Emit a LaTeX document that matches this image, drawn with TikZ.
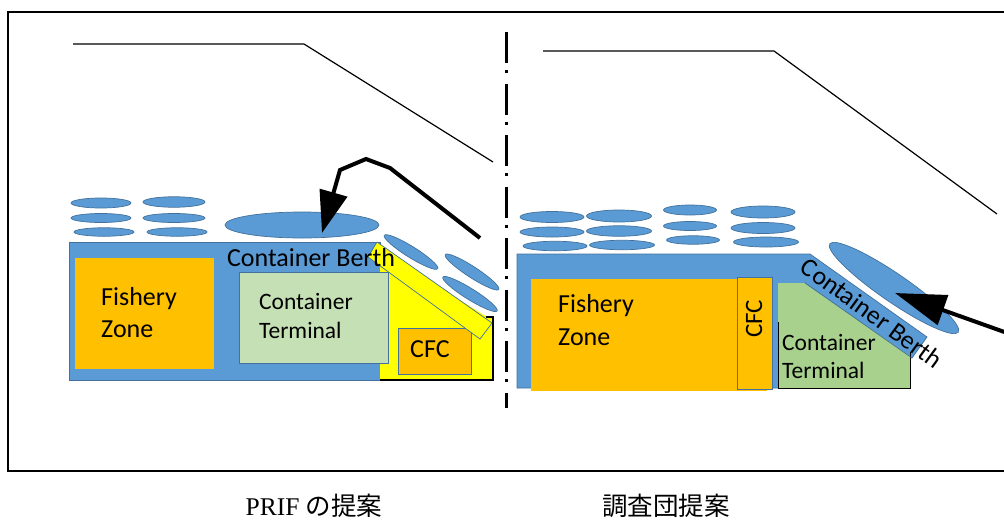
\documentclass[tikz,border=0pt]{standalone}
\usepackage{fontspec}
\setmainfont{Liberation Serif}
\setsansfont{Carlito}
\newfontfamily\cjk{Noto Sans CJK JP}
\usetikzlibrary{shapes.geometric,arrows.meta}
\definecolor{bl}{HTML}{5B9BD5}
\definecolor{bld}{HTML}{41719C}
\definecolor{org}{HTML}{FFC000}
\definecolor{lgr}{HTML}{C5E0B4}
\definecolor{mgr}{HTML}{A9D18E}
\definecolor{yel}{HTML}{FFFF00}
\begin{document}
\begin{tikzpicture}[x=1pt,y=-1pt,
  ell/.style={ellipse, fill=bl, draw=bld, line width=0.7pt, inner sep=0pt, outer sep=0pt},
  sml/.style={ell, minimum width=60pt, minimum height=9pt},
  lbl/.style={font=\sffamily\fontsize{26}{30}\selectfont, inner sep=0pt, anchor=base west},
  tlbl/.style={font=\sffamily\fontsize{23.5}{28}\selectfont, inner sep=0pt, anchor=base west},
  thinln/.style={line width=1.2pt, black},
  thickarr/.style={line width=4pt, black, -{Triangle[length=42pt,width=28pt]}},
  captxt/.style={font=\fontsize{25.5}{28}\selectfont, inner sep=0pt, anchor=base}]
\useasboundingbox (0,0) rectangle (1004,520);
% frame
\draw[line width=1.2pt] (1015,12) -- (8,12) -- (8,471) -- (1015,471);
% ---------- left panel ----------
\coordinate (l1) at (73,44); \coordinate (l2) at (304,44); \coordinate (l3) at (493,162);
\draw[thinln] (l1) -- (l2) -- (l3);
% land
\draw[fill=bl, draw=bld, line width=0.7pt] (69,242) rectangle (380,380);
\fill[org] (75,258) rectangle (214,369);
% yellow area
\fill[yel] (380,250) -- (487,317) -- (493,317) -- (493,380) -- (380,380) -- cycle;
\draw[line width=1.2pt] (380,380) -- (493,380) -- (493,317) -- (486,317);
% terminal
\draw[fill=lgr, draw=bld, line width=0.7pt] (239,272) rectangle (388,363);
% CFC
\draw[fill=org, draw=bld, line width=0.7pt] (398,328) rectangle (471,374);
% yellow strip
\draw[fill=yel, draw=bld, line width=0.7pt] (377,242) -- (492,323) -- (480,339) -- (368,257) -- cycle;
% ellipses
\node[ell, minimum width=154pt, minimum height=26pt] (bigL) at (302,225) {};
\node[sml, minimum height=10pt] (s11) at (101,203) {};
\node[sml] (s12) at (101,218) {};
\node[sml, minimum height=8.5pt] (s13) at (104,232) {};
\node[sml, minimum width=62pt, minimum height=10.5pt] (s21) at (174,202) {};
\node[sml, minimum width=62pt] (s22) at (174,218) {};
\node[sml, minimum height=8.5pt] (s23) at (177,232) {};
\node[ell, minimum width=63pt, minimum height=11pt, rotate=-32] (r1) at (411,252) {};
\node[ell, minimum width=64pt, minimum height=11pt, rotate=-33] (r2) at (472,272) {};
\node[ell, minimum width=64pt, minimum height=11pt, rotate=-32] (r3) at (470,294) {};
% texts
\node[lbl] (fz1) at (101,305) {Fishery};
\node[lbl] (fz2) at (101,337) {Zone};
\node[tlbl] (ct1) at (259,309) {Container};
\node[tlbl] (ct2) at (259,338) {Terminal};
\node[lbl] (cfcL) at (410,357) {CFC};
\node[lbl, anchor=base] (cbL) at (311,266) {Container Berth};
% arrow
\coordinate (a1) at (480,238); \coordinate (a2) at (390,168); \coordinate (a3) at (366,159); \coordinate (a4) at (340,170); \coordinate (a5) at (322,233);
\draw[thickarr] (a1) -- (a2) -- (a3) -- (a4) -- (a5);
% ---------- divider ----------
\coordinate (d1) at (506,32); \coordinate (d2) at (506,408);
\draw[line width=3pt, dash pattern=on 31pt off 7pt on 3pt off 10.5pt] (d1) -- (d2);
% ---------- right panel ----------
\coordinate (m1) at (543,51); \coordinate (m2) at (774,51); \coordinate (m3) at (997,214);
\draw[thinln] (m1) -- (m2) -- (m3);
\draw[fill=bl, draw=bld, line width=0.7pt] (517,254) -- (810,254) -- (927,337) -- (912,358) -- (805,283) -- (805,388) -- (517,388) -- cycle;
\fill[org] (531,279) rectangle (767,391);
\draw[fill=org, draw=bld, line width=0.7pt] (737,277) rectangle (772,389);
\fill[mgr] (778,283) -- (805,283) -- (910,356) -- (910,388) -- (778,388) -- cycle;
\draw[line width=1pt] (778,322) -- (778,388) -- (910,388) -- (910,352);
\draw[bld, line width=0.7pt] (805,283) -- (912,358);
% small ellipses right
\node[sml, minimum width=64pt, minimum height=11pt] (q11) at (552,217) {};
\node[sml, minimum width=64pt, minimum height=10pt] (q12) at (552,232) {};
\node[sml, minimum width=64pt, minimum height=9.5pt] (q13) at (555,246) {};
\node[sml, minimum width=65pt, minimum height=12pt] (q21) at (619,216) {};
\node[sml, minimum width=65pt, minimum height=10.5pt] (q22) at (619,231) {};
\node[sml, minimum width=65pt, minimum height=9.5pt] (q23) at (622,245) {};
\node[sml, minimum width=53pt, minimum height=10pt] (q31) at (690,210) {};
\node[sml, minimum width=53pt, minimum height=9pt] (q32) at (690,226) {};
\node[sml, minimum width=53pt, minimum height=8.5pt] (q33) at (693,240) {};
\node[sml, minimum width=64pt, minimum height=12pt] (q41) at (763,212) {};
\node[sml, minimum width=64pt, minimum height=11pt] (q42) at (763,228) {};
\node[sml, minimum width=65pt, minimum height=10pt] (q43) at (766,242) {};
\node[ell, minimum width=156pt, minimum height=28pt, rotate=-34.5] (bigR) at (894,288) {};
% texts right
\node[lbl] (fz3) at (558,312) {Fishery};
\node[lbl] (fz4) at (558,345) {Zone};
\node[font=\sffamily\fontsize{25}{30}\selectfont, inner sep=0pt, rotate=90] (cfcR) at (754,319) {CFC};
\node[tlbl] (ct3) at (782,350) {Container};
\node[tlbl] (ct4) at (782,378) {Terminal};
\node[font=\sffamily\fontsize{26}{30}\selectfont, inner sep=0pt, rotate=-36] (cbR) at (872,313) {Container Berth};
% arrow right
\coordinate (b1) at (1010,334); \coordinate (b2) at (895,293);
\draw[line width=4pt, black, -{Triangle[length=51pt,width=31pt]}] (b1) -- (b2);
% captions
\node[captxt] (c1) at (314,515) {PRIF {\cjk の提案}};
\node[captxt] (c2) at (666,515) {\cjk 調査団提案};
\end{tikzpicture}
\end{document}
